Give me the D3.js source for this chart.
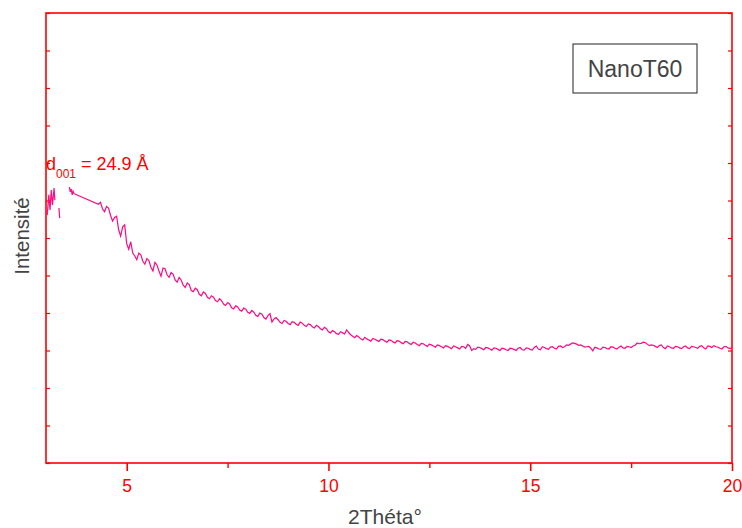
<!DOCTYPE html>
<html><head><meta charset="utf-8">
<script src="https://cdn.jsdelivr.net/npm/d3@7"></script>
<style>body{margin:0;background:#fff;} svg{display:block;font-family:"Liberation Sans",Arial,sans-serif;}</style>
</head><body>
<svg id="c" width="742" height="528"></svg>
<script>
// ---- data ----
const startTheta = [3.03, 3.07, 3.10, 3.13, 3.16, 3.20, 3.22, null, 3.32, 3.34, null, 3.58, 3.60, 3.62, 3.65, 3.67, 3.70];
const startInt   = [6.61, 7.15, 6.75, 7.28, 6.88, 7.33, 7.01, null, 6.80, 6.53, null, 7.36, 7.23, 7.31, 7.15, 7.25, 7.18];
const mainTheta = [4.3,4.4,4.5,4.6,4.7,4.8,4.9,5.0,5.1,5.2,5.3,5.4,5.5,5.6,5.7,5.8,5.9,6.0,6.1,6.2,6.3,6.4,6.5,6.6,6.7,6.8,6.9,7.0,7.1,7.2,7.3,7.4,7.5,7.6,7.7,7.8,7.9,8.0,8.1,8.2,8.3,8.4,8.5,8.6,8.7,8.8,8.9,9.0,9.1,9.2,9.3,9.4,9.5,9.6,9.7,9.8,9.9,10.0,10.1,10.2,10.3,10.4,10.5,10.6,10.7,10.8,10.9,11.0,11.1,11.2,11.3,11.4,11.5,11.6,11.7,11.8,11.9,12.0,12.1,12.2,12.3,12.4,12.5,12.6,12.7,12.8,12.9,13.0,13.1,13.2,13.3,13.4,13.5,13.6,13.7,13.8,13.9,14.0,14.1,14.2,14.3,14.4,14.5,14.6,14.7,14.8,14.9,15.0,15.1,15.2,15.3,15.4,15.5,15.6,15.7,15.8,15.9,16.0,16.1,16.2,16.3,16.4,16.5,16.6,16.7,16.8,16.9,17.0,17.1,17.2,17.3,17.4,17.5,17.6,17.7,17.8,17.9,18.0,18.1,18.2,18.3,18.4,18.5,18.6,18.7,18.8,18.9,19.0,19.1,19.2,19.3,19.4,19.5,19.6,19.7,19.8,19.9,20.0];
const mainInt = [6.90,6.78,6.84,6.60,6.55,6.22,6.30,5.85,5.90,5.52,5.60,5.38,5.45,5.22,5.35,5.12,5.20,5.02,5.08,4.88,4.95,4.74,4.80,4.60,4.66,4.50,4.56,4.42,4.46,4.33,4.38,4.24,4.28,4.14,4.19,4.08,4.13,4.02,4.07,3.94,4.00,3.88,3.93,3.76,3.88,3.75,3.80,3.72,3.77,3.70,3.76,3.67,3.71,3.63,3.67,3.58,3.62,3.50,3.53,3.45,3.50,3.44,3.48,3.38,3.40,3.31,3.35,3.28,3.32,3.27,3.30,3.25,3.28,3.23,3.26,3.21,3.24,3.19,3.22,3.16,3.19,3.14,3.17,3.12,3.15,3.10,3.13,3.08,3.12,3.07,3.11,3.06,3.12,3.05,3.09,3.05,3.08,3.04,3.07,3.03,3.06,3.02,3.06,3.03,3.06,3.02,3.07,3.03,3.08,3.04,3.10,3.05,3.09,3.06,3.11,3.08,3.15,3.17,3.19,3.14,3.12,3.10,3.06,3.09,3.04,3.09,3.05,3.10,3.06,3.09,3.07,3.11,3.08,3.14,3.18,3.22,3.17,3.15,3.11,3.13,3.08,3.12,3.07,3.11,3.07,3.10,3.07,3.11,3.08,3.11,3.07,3.12,3.08,3.10,3.06,3.10,3.07,3.08];
const midTheta = [4.35,4.45,4.55,4.65,4.75,4.85,4.95,5.05,5.15,5.25,5.35,5.45,5.55,5.65,5.75,5.85,5.95,6.05,6.15,6.25,6.35,6.45,6.55,6.65,6.75,6.85,6.95,7.05,7.15,7.25,7.35,7.45,7.55,7.65,7.75,7.85,7.95,8.05,8.15,8.25,8.35,8.45,8.55,8.65,8.75,8.85,8.95,9.05,9.15,9.25,9.35,9.45,9.55,9.65,9.75,9.85,9.95,10.05,10.15,10.25,10.35,10.45,10.55,10.65,10.75,10.85,10.95,11.05,11.15,11.25,11.35,11.45,11.55,11.65,11.75,11.85,11.95,12.05,12.15,12.25,12.35,12.45,12.55,12.65,12.75,12.85,12.95,13.05,13.15,13.25,13.35,13.45,13.55,13.65,13.75,13.85,13.95,14.05,14.15,14.25,14.35,14.45,14.55,14.65,14.75,14.85,14.95,15.05,15.15,15.25,15.35,15.45,15.55,15.65,15.75,15.85,15.95,16.05,16.15,16.25,16.35,16.45,16.55,16.65,16.75,16.85,16.95,17.05,17.15,17.25,17.35,17.45,17.55,17.65,17.75,17.85,17.95,18.05,18.15,18.25,18.35,18.45,18.55,18.65,18.75,18.85,18.95,19.05,19.15,19.25,19.35,19.45,19.55,19.65,19.75,19.85,19.95];
const midInt = [6.95,6.70,6.80,6.45,6.58,6.05,6.35,5.70,5.60,5.42,
  5.55,5.30,5.40,5.12,5.28,4.98,5.18,4.95,5.03,4.82,
  4.88,4.68,4.76,4.57,4.62,4.46,4.52,4.38,4.42,4.30,
  4.33,4.20,4.24,4.11,4.16,4.05,4.10,3.99,4.02,3.91,
  3.97,3.84,3.98,3.84,3.82,3.72,3.78,3.69,3.75,3.67,
  3.73,3.64,3.69,3.60,3.64,3.55,3.58,3.47,3.50,3.43,
  3.47,3.55,3.42,3.34,3.36,3.28,3.31,3.25,3.30,3.24,
  3.29,3.22,3.27,3.20,3.25,3.18,3.23,3.16,3.20,3.13,
  3.18,3.11,3.15,3.09,3.13,3.07,3.11,3.05,3.10,3.04,
  3.10,3.16,3.00,3.03,3.08,3.02,3.07,3.01,3.06,3.00,
  3.05,3.00,3.05,3.00,3.08,3.01,3.06,3.01,3.12,3.02,
  3.08,3.03,3.10,3.04,3.12,3.10,3.14,3.20,3.17,3.15,
  3.09,3.11,2.99,3.07,3.03,3.08,3.04,3.09,3.04,3.12,
  3.06,3.10,3.12,3.20,3.19,3.21,3.13,3.14,3.08,3.15,
  3.05,3.10,3.06,3.10,3.05,3.12,3.05,3.10,3.06,3.13,
  3.04,3.11,3.13,3.09,3.04,3.11,3.05];
const xTicks = [5, 10, 15, 20];
const xMinorTicks = [7.5, 12.5, 17.5];
const yTicks = [0,1,2,3,4,5,6,7,8,9,10,11,12];
const sampleName = "NanoT60";
const xTitle = "2Théta°";
const yTitle = "Intensité";

// ---- layout ----
const L = 46, R = 732, T = 13, B = 463;
const svg = d3.select("#c");
const x = d3.scaleLinear().domain([3, 20]).range([L, R]);
const y = d3.scaleLinear().domain([0, 12]).range([B, T]);
const red = "#ff0000";
const pink = "#ff0a82";

// frame
svg.append("rect").attr("x", L).attr("y", T).attr("width", R - L).attr("height", B - T)
  .attr("fill", "none").attr("stroke", red).attr("stroke-width", 1.6);

// bottom axis
const gx = svg.append("g").attr("transform", `translate(0,${B})`)
  .call(d3.axisBottom(x).tickValues(xTicks).tickSize(8).tickFormat(d3.format("d")));
gx.select(".domain").remove();
gx.selectAll("line").attr("stroke", red).attr("stroke-width", 1.6);
gx.selectAll("text").attr("fill", red).attr("font-size", 17.5).attr("dy", "1.0em")
  .attr("font-family", "Liberation Sans, Arial, sans-serif");
const gxm = svg.append("g").attr("transform", `translate(0,${B})`)
  .call(d3.axisBottom(x).tickValues(xMinorTicks).tickSize(5).tickFormat(""));
gxm.select(".domain").remove();
gxm.selectAll("line").attr("stroke", red).attr("stroke-width", 1.4);

// left axis (inward ticks)
const gy = svg.append("g").attr("transform", `translate(${L},0)`)
  .call(d3.axisRight(y).tickValues(yTicks).tickSize(4).tickFormat(""));
gy.select(".domain").remove();
gy.selectAll("line").attr("stroke", red).attr("stroke-width", 1.2);
// right axis (inward ticks)
const gyr = svg.append("g").attr("transform", `translate(${R},0)`)
  .call(d3.axisLeft(y).tickValues(yTicks).tickSize(4).tickFormat(""));
gyr.select(".domain").remove();
gyr.selectAll("line").attr("stroke", red).attr("stroke-width", 1.2);

// data line
const line = d3.line().defined(d => d[1] !== null).x(d => x(d[0])).y(d => y(d[1]));
const startPts = startTheta.map((t, i) => [t, startInt[i]]);
const mainPts = [[3.70, 7.18]]
  .concat(mainTheta.map((t, i) => [t, mainInt[i]]))
  .concat(midTheta.map((t, i) => [t, midInt[i]]))
  .sort((a, b) => a[0] - b[0]);
svg.append("path").datum(startPts).attr("d", line).attr("fill", "none")
  .attr("stroke", pink).attr("stroke-width", 1.2);
svg.append("path").datum(mainPts).attr("d", line).attr("fill", "none")
  .attr("stroke", pink).attr("stroke-width", 1.2);

// annotation
const ann = svg.append("text").attr("x", 46).attr("y", 170).attr("fill", red)
  .attr("font-size", 18);
ann.append("tspan").text("d");
ann.append("tspan").attr("font-size", 12).attr("dy", 8).text("001");
ann.append("tspan").attr("dy", -8).text(" = 24.9 Å");

// legend box
svg.append("rect").attr("x", 573).attr("y", 44).attr("width", 124).attr("height", 49)
  .attr("fill", "#fff").attr("stroke", "#222").attr("stroke-width", 1);
svg.append("text").attr("x", 635).attr("y", 77).attr("text-anchor", "middle")
  .attr("font-size", 23).attr("fill", "#444").text(sampleName);

// axis titles
svg.append("text").attr("x", 385).attr("y", 524).attr("text-anchor", "middle")
  .attr("font-size", 21).attr("fill", "#444").text(xTitle);
svg.append("text").attr("transform", "translate(29,236) rotate(-90)").attr("text-anchor", "middle")
  .attr("font-size", 20.5).attr("fill", "#444").text(yTitle);
</script>
</body></html>
